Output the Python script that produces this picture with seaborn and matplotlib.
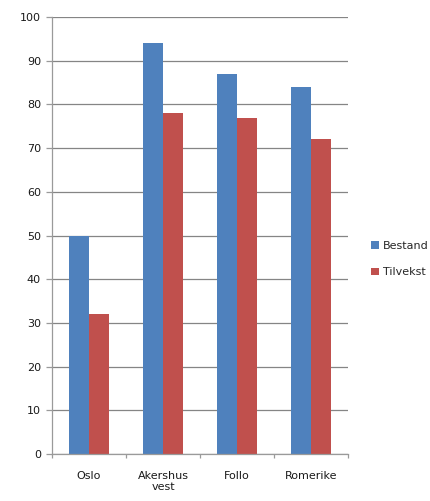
import matplotlib
matplotlib.use("Agg")
import matplotlib.pyplot as plt
import seaborn as sns
import pandas as pd
from matplotlib.patches import Patch

categories = ["Oslo", "Akershus\nvest", "Follo", "Romerike"]
series_names = ["Bestand", "Tilvekst"]
bestand = [50, 94, 87, 84]
tilvekst = [32, 78, 77, 72]
y_ticks = [0, 10, 20, 30, 40, 50, 60, 70, 80, 90, 100]
colors = ["#4F81BD", "#C0504D"]

df = pd.DataFrame({
    "kategori": categories * 2,
    "serie": [series_names[0]] * 4 + [series_names[1]] * 4,
    "verdi": bestand + tilvekst,
})

sns.set_style("white")
plt.rcParams["font.family"] = ["DejaVu Sans"]

fig = plt.figure(figsize=(4.30, 5.01), dpi=100)
ax = fig.add_axes([52/430, 1-454/501, (348-52)/430, (454-17)/501])

sns.barplot(data=df, x="kategori", y="verdi", hue="serie", palette=colors,
            width=0.55, gap=0, ax=ax, legend=False, saturation=1,
            edgecolor="none", linewidth=0)

ax.set_xlim(-0.5, 3.5)
ax.set_ylim(0, 100)
ax.set_yticks(y_ticks)
ax.yaxis.grid(True, color="#858585", linewidth=0.9)
ax.set_axisbelow(True)
ax.set_xlabel("")
ax.set_ylabel("")

for s in ["top", "right"]:
    ax.spines[s].set_visible(False)
ax.spines["left"].set_color("#9a9a9a")
ax.spines["bottom"].set_color("#9a9a9a")
ax.spines["left"].set_linewidth(0.9)
ax.spines["bottom"].set_linewidth(0.9)

fs = 8
ax.tick_params(axis="y", direction="out", length=4, width=0.9, color="#9a9a9a",
               pad=4, labelsize=fs, labelcolor="#1a1a1a", left=True)
ax.tick_params(axis="x", length=0, pad=12, labelsize=fs, labelcolor="#1a1a1a")
ax.set_xticks([-0.5, 0.5, 1.5, 2.5, 3.5], minor=True)
ax.tick_params(axis="x", which="minor", direction="out", length=3, width=0.9,
               color="#9a9a9a", bottom=True)

handles = [Patch(facecolor=c, edgecolor="none") for c in colors]
fig.legend(handles, series_names, loc="center left",
           bbox_to_anchor=(367/430, 1-259/501), frameon=False,
           fontsize=fs, handlelength=0.7, handleheight=0.7,
           handletextpad=0.35, labelspacing=1.5, borderaxespad=0)

fig.savefig("out.png", dpi=100)
